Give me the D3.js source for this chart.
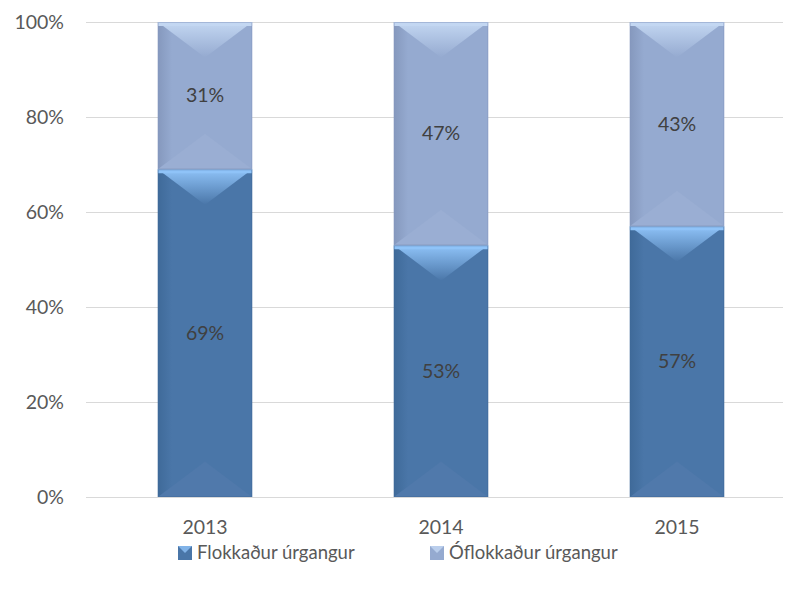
<!DOCTYPE html>
<html>
<head>
<meta charset="utf-8">
<script src="https://cdn.jsdelivr.net/npm/d3@7"></script>
<style>
  body { margin: 0; background: #fff; }
  text { font-family: Lato, "Open Sans", sans-serif; }
</style>
</head>
<body>
<svg id="chart" width="785" height="593"></svg>
<script>
const years = ['2013', '2014', '2015'];
const sorted = [69, 53, 57];     // Flokkaður úrgangur
const unsorted = [31, 47, 43];   // Óflokkaður úrgangur
const seriesNames = ['Flokkaður úrgangur', 'Óflokkaður úrgangur'];
const yTicks = [0, 20, 40, 60, 80, 100];

const svg = d3.select('#chart');

const x = d3.scaleBand().domain(years).range([87, 795]).paddingInner(0.6).paddingOuter(0.3);
const y = d3.scaleLinear().domain([0, 100]).range([497, 22]);

const colors = [
  {body: '#4a76a8', light: '#8fc3f8', dark: '#3f6a99', bot: '#5079ab'},
  {body: '#95aad0', light: '#c3d7f2', dark: '#8598bd', bot: '#9aaed3'}
];

const defs = svg.append('defs');
colors.forEach((c, i) => {
  const g = defs.append('linearGradient').attr('id', 'facet' + i)
    .attr('x1', 0).attr('y1', 0).attr('x2', 0).attr('y2', 1);
  g.append('stop').attr('offset', '0%').attr('stop-color', c.light);
  g.append('stop').attr('offset', '100%').attr('stop-color', c.body);
  const h = defs.append('linearGradient').attr('id', 'side' + i)
    .attr('x1', 0).attr('y1', 0).attr('x2', 1).attr('y2', 0);
  h.append('stop').attr('offset', '0%').attr('stop-color', c.dark);
  h.append('stop').attr('offset', '15%').attr('stop-color', c.body);
  h.append('stop').attr('offset', '100%').attr('stop-color', c.body);
});

// gridlines
svg.append('g').selectAll('line').data(yTicks).enter().append('line')
  .attr('x1', 86).attr('x2', 783)
  .attr('y1', d => y(d) + 0.5).attr('y2', d => y(d) + 0.5)
  .attr('stroke', '#d9d9d9').attr('stroke-width', 1);

// y labels
svg.append('g').selectAll('text').data(yTicks).enter().append('text')
  .attr('x', 64).attr('y', d => y(d)).attr('dy', '0.35em')
  .attr('text-anchor', 'end').attr('font-size', 19.5).attr('fill', '#595959')
  .text(d => d + '%');

// x labels
svg.append('g').selectAll('text').data(years).enter().append('text')
  .attr('x', d => x(d) + x.bandwidth() / 2).attr('y', 527).attr('dy', '0.35em')
  .attr('text-anchor', 'middle').attr('font-size', 19.5).attr('fill', '#595959')
  .text(d => d);

// build segments
const segs = [];
years.forEach((yr, i) => {
  segs.push({yr, s: 0, lo: 0, hi: sorted[i], v: sorted[i]});
  segs.push({yr, s: 1, lo: sorted[i], hi: sorted[i] + unsorted[i], v: unsorted[i]});
});

const bars = svg.append('g');
segs.forEach(d => {
  const x0 = x(d.yr), w = x.bandwidth(), x1 = x0 + w, cx = x0 + w / 2;
  const yt = y(d.hi), yb = y(d.lo), h = yb - yt;
  const dep = Math.min(w / 2, h / 2) * 0.75;
  const c = colors[d.s];
  const g = bars.append('g');
  g.append('rect').attr('x', x0).attr('y', yt).attr('width', w).attr('height', h)
    .attr('fill', `url(#side${d.s})`);
  // bottom facet
  g.append('path').attr('d', `M${x0},${yb}L${x1},${yb}L${cx},${yb - dep}Z`)
    .attr('fill', c.bot);
  // top facet
  g.append('path').attr('d', `M${x0},${yt}L${x1},${yt}L${cx},${yt + dep}Z`)
    .attr('fill', `url(#facet${d.s})`);
  // top highlight band
  g.append('rect').attr('x', x0).attr('y', yt).attr('width', w).attr('height', 4)
    .attr('fill', c.light);
  g.append('rect').attr('x', x0 + 0.5).attr('y', yt + 0.5).attr('width', w - 1).attr('height', h - 1)
    .attr('fill', 'none').attr('stroke', c.dark).attr('stroke-opacity', 0.5);
  g.append('text').attr('x', cx).attr('y', (yt + yb) / 2).attr('dy', '0.35em')
    .attr('text-anchor', 'middle').attr('font-size', 19.5).attr('fill', '#404040')
    .text(d.v + '%');
});

// legend
const legX = [178, 430];
const leg = svg.append('g');
seriesNames.forEach((n, i) => {
  const c = colors[i];
  leg.append('rect').attr('x', legX[i]).attr('y', 546).attr('width', 14).attr('height', 14)
    .attr('fill', c.body);
  leg.append('path')
    .attr('d', `M${legX[i]},546L${legX[i] + 14},546L${legX[i] + 7},553Z`)
    .attr('fill', c.light).attr('opacity', 0.8);
  leg.append('text').attr('x', legX[i] + 19).attr('y', 553).attr('dy', '0.35em')
    .attr('font-size', 18.5).attr('fill', '#595959').text(n);
});
</script>
</body>
</html>
